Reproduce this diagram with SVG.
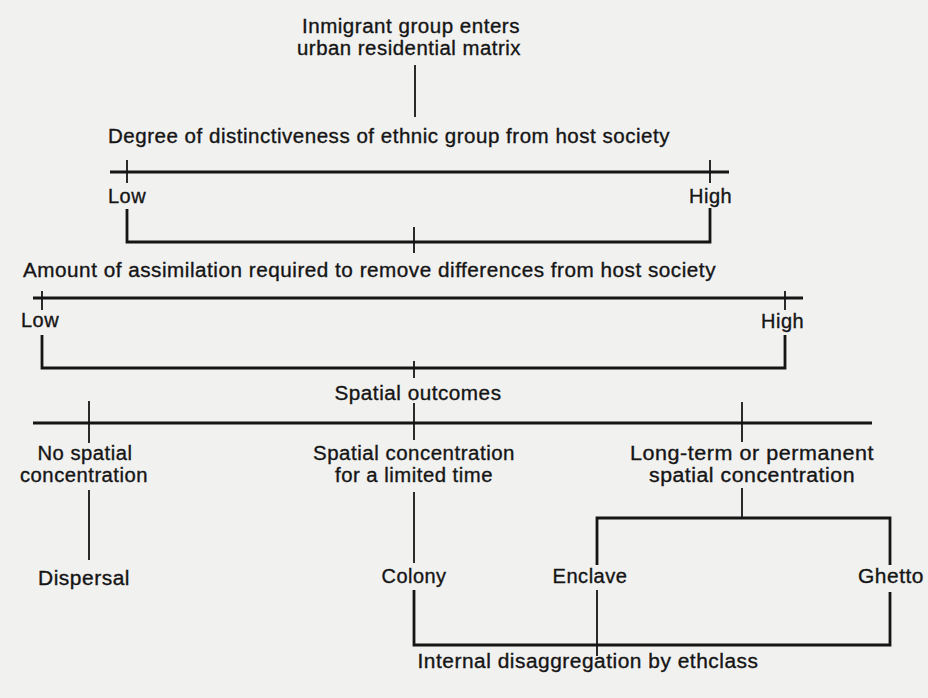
<svg xmlns="http://www.w3.org/2000/svg" width="928" height="698" viewBox="0 0 928 698">
<style>
text{font-family:"Liberation Sans",Arial,sans-serif;font-size:20px;fill:#151515;stroke:#151515;stroke-width:0.35;letter-spacing:0.5px;}
.c{text-anchor:middle;}
.ln{stroke:#151515;stroke-width:2.8;fill:none;}
.th{stroke:#151515;stroke-width:1.8;fill:none;}
</style>
<rect width="928" height="698" fill="#f1f1f0"/>
<g id="connectors">
<line class="th" x1="415" y1="65" x2="415" y2="117"/>
<line class="ln" x1="110" y1="172" x2="729" y2="172"/>
<line class="th" x1="127" y1="160" x2="127" y2="183"/>
<line class="th" x1="710" y1="160" x2="710" y2="183"/>
<path class="ln" d="M127 209 V242 H710 V208"/>
<line class="th" x1="414" y1="227" x2="414" y2="253"/>
<line class="ln" x1="33" y1="298" x2="803" y2="298"/>
<line class="th" x1="42" y1="291" x2="42" y2="310"/>
<line class="th" x1="785" y1="291" x2="785" y2="310"/>
<path class="ln" d="M42 335 V368 H785 V335"/>
<line class="th" x1="414" y1="361" x2="414" y2="378"/>
<line class="ln" x1="33" y1="423" x2="872" y2="423"/>
<line class="th" x1="89" y1="401" x2="89" y2="443"/>
<line class="th" x1="414" y1="403" x2="414" y2="440"/>
<line class="th" x1="742" y1="402" x2="742" y2="442"/>
<line class="th" x1="89" y1="490" x2="89" y2="560"/>
<line class="th" x1="414" y1="492" x2="414" y2="563"/>
<line class="th" x1="742" y1="488" x2="742" y2="518"/>
<path class="ln" d="M597 565 V518 H890 V565"/>
<path class="ln" d="M414 590 V645 H890 V592"/>
<line class="th" x1="597" y1="590" x2="597" y2="656"/>
</g>
<g id="n-start"><text class="c" x="411" y="33" textLength="218" lengthAdjust="spacingAndGlyphs">Inmigrant group enters</text><text class="c" x="409" y="55" textLength="224" lengthAdjust="spacingAndGlyphs">urban residential matrix</text></g>
<g id="n-distinct"><text x="108" y="143" textLength="562" lengthAdjust="spacingAndGlyphs">Degree of distinctiveness of ethnic group from host society</text></g>
<g id="n-low1"><text x="108" y="203">Low</text></g>
<g id="n-high1"><text x="689" y="203">High</text></g>
<g id="n-assim"><text x="23" y="277" textLength="693" lengthAdjust="spacingAndGlyphs">Amount of assimilation required to remove differences from host society</text></g>
<g id="n-low2"><text x="21" y="327">Low</text></g>
<g id="n-high2"><text x="761" y="328">High</text></g>
<g id="n-outcomes"><text class="c" x="418" y="400" textLength="167" lengthAdjust="spacingAndGlyphs">Spatial outcomes</text></g>
<g id="n-nospatial"><text class="c" x="85" y="460" textLength="95" lengthAdjust="spacingAndGlyphs">No spatial</text><text class="c" x="84" y="482" textLength="128" lengthAdjust="spacingAndGlyphs">concentration</text></g>
<g id="n-limited"><text class="c" x="414" y="460" textLength="202" lengthAdjust="spacingAndGlyphs">Spatial concentration</text><text class="c" x="414" y="482" textLength="158" lengthAdjust="spacingAndGlyphs">for a limited time</text></g>
<g id="n-longterm"><text class="c" x="752" y="460" textLength="244" lengthAdjust="spacingAndGlyphs">Long-term or permanent</text><text class="c" x="752" y="482" textLength="206" lengthAdjust="spacingAndGlyphs">spatial concentration</text></g>
<g id="n-dispersal"><text class="c" x="84" y="585" textLength="92" lengthAdjust="spacingAndGlyphs">Dispersal</text></g>
<g id="n-colony"><text class="c" x="414" y="583" textLength="65" lengthAdjust="spacingAndGlyphs">Colony</text></g>
<g id="n-enclave"><text class="c" x="590" y="583" textLength="75" lengthAdjust="spacingAndGlyphs">Enclave</text></g>
<g id="n-ghetto"><text class="c" x="891" y="583" textLength="66" lengthAdjust="spacingAndGlyphs">Ghetto</text></g>
<g id="n-internal"><text class="c" x="588" y="668" textLength="341" lengthAdjust="spacingAndGlyphs">Internal disaggregation by ethclass</text></g>
</svg>
